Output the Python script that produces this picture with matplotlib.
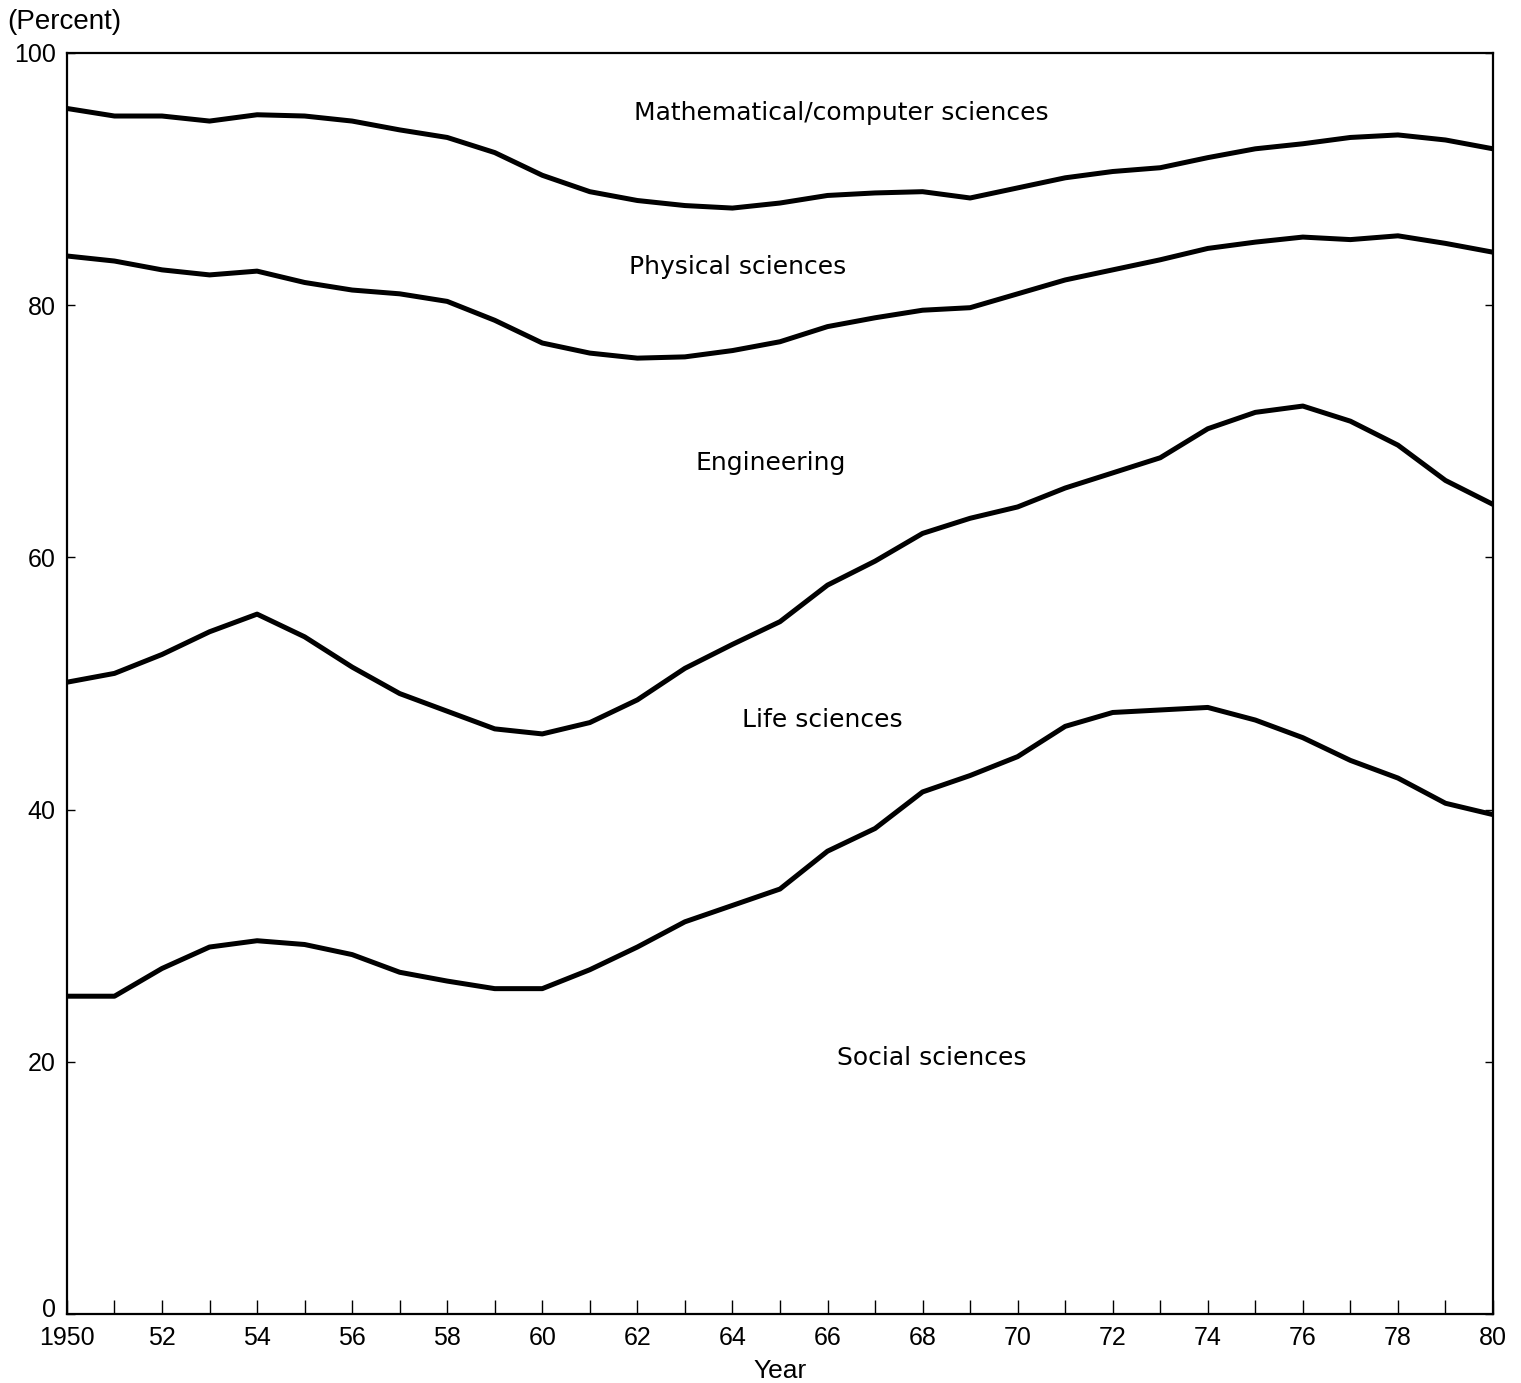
import numpy as np
import matplotlib
matplotlib.use("Agg")
import matplotlib.pyplot as plt
from matplotlib.transforms import ScaledTranslation

plt.rcParams['font.family'] = ['Liberation Sans', 'DejaVu Sans']

# Years on the x axis
years = np.arange(1950, 1981)

# Share of each field (percent), stacked from the bottom up
social = [25.2, 25.2, 27.4, 29.1, 29.6, 29.3, 28.5, 27.1, 26.4, 25.8, 25.8,
          27.3, 29.1, 31.1, 32.4, 33.7, 36.7, 38.5, 41.4, 42.7, 44.2,
          46.6, 47.7, 47.9, 48.1, 47.1, 45.7, 43.9, 42.5, 40.5, 39.6]
life = [24.9, 25.6, 24.9, 25.0, 25.9, 24.4, 22.8, 22.1, 21.4, 20.6, 20.2,
        19.6, 19.6, 20.1, 20.7, 21.2, 21.1, 21.2, 20.5, 20.4, 19.8,
        18.9, 19.0, 20.0, 22.1, 24.4, 26.3, 26.9, 26.4, 25.6, 24.6]
engineering = [33.8, 32.7, 30.5, 28.3, 27.2, 28.1, 29.9, 31.7, 32.5, 32.4, 31.0,
               29.3, 27.1, 24.7, 23.3, 22.2, 20.5, 19.3, 17.7, 16.7, 16.9,
               16.5, 16.1, 15.7, 14.3, 13.5, 13.4, 14.4, 16.6, 18.8, 20.0]
physical = [11.7, 11.5, 12.2, 12.2, 12.4, 13.2, 13.4, 13.0, 13.0, 13.3, 13.3,
            12.8, 12.5, 12.0, 11.3, 11.0, 10.4, 9.9, 9.4, 8.7, 8.4,
            8.1, 7.8, 7.3, 7.2, 7.4, 7.4, 8.1, 8.0, 8.2, 8.2]
math_comp = [4.4, 5.0, 5.0, 5.4, 4.9, 5.0, 5.4, 6.1, 6.7, 7.9, 9.7,
             11.0, 11.7, 12.1, 12.3, 11.9, 11.3, 11.1, 11.0, 11.5, 10.7,
             9.9, 9.4, 9.1, 8.3, 7.6, 7.2, 6.7, 6.5, 6.9, 7.6]

field_names = ["Social sciences", "Life sciences", "Engineering",
               "Physical sciences", "Mathematical/computer sciences"]
xtick_years = list(range(1950, 1981, 2))
xtick_labels = ["1950"] + [str(y % 100) for y in xtick_years[1:]]

shares = np.array([social, life, engineering, physical, math_comp])
tops = np.cumsum(shares, axis=0)

fig = plt.figure(figsize=(15.21, 13.83), dpi=100)
ax = fig.add_axes([0.044, 0.0499, 0.9376, 0.9118])

# boundary lines (the top of the last band is the frame at 100)
for row in tops[:-1]:
    ax.plot(years, row, color="black", lw=3.6, solid_joinstyle="round")

# band labels
label_pos = [(1968.2, 20.3), (1965.9, 47.1), (1964.8, 67.5),
             (1964.1, 83.0), (1966.3, 95.2)]
for name, (lx, ly) in zip(field_names, label_pos):
    ax.text(lx, ly, name, ha="center", va="center", fontsize=18,
            family=["DejaVu Sans"])

ax.set_xlim(1950, 1980)
ax.set_ylim(0, 100)
ax.set_xticks(xtick_years)
ax.set_xticklabels(xtick_labels)
ax.set_xticks(years, minor=True)
ax.set_yticks([0, 20, 40, 60, 80, 100])
ax.tick_params(axis="both", which="both", direction="in", labelsize=18,
               right=True, width=1)
ax.tick_params(axis="x", which="major", length=10, pad=9)
ax.tick_params(axis="x", which="minor", length=10)
ax.tick_params(axis="y", which="major", length=6, pad=8)
for s in ax.spines.values():
    s.set_linewidth(1.6)

# lift the "0" a little so it clears "1950"
zero_lbl = ax.get_yticklabels()[0]
zero_lbl.set_transform(zero_lbl.get_transform() +
                       ScaledTranslation(0, 5 / 72, fig.dpi_scale_trans))

ax.set_xlabel("Year", fontsize=19, labelpad=6)
fig.text(0.005, 0.984, "(Percent)", fontsize=20, ha="left", va="center")

fig.savefig("out.png", dpi=100)
